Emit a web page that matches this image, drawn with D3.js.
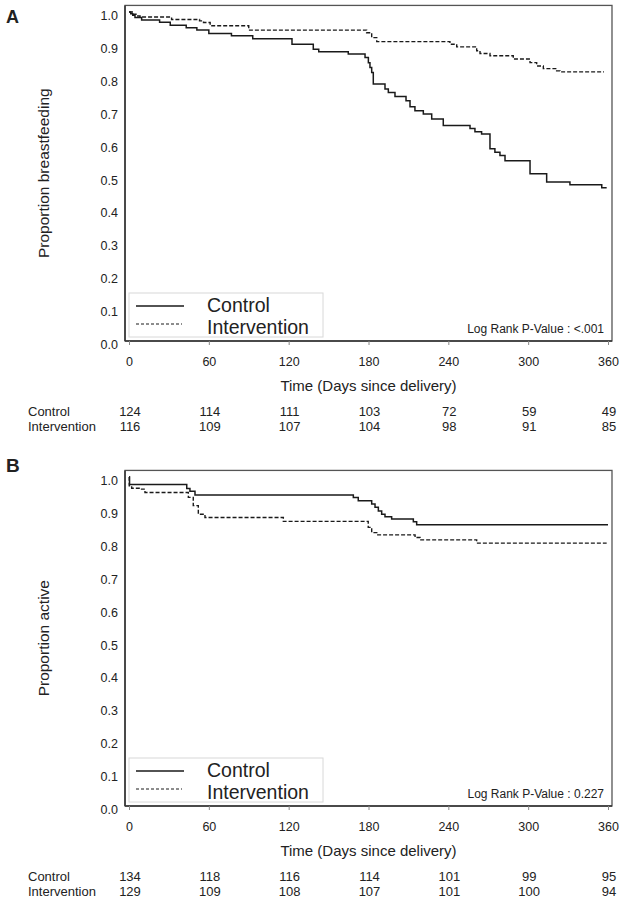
<!DOCTYPE html>
<html>
<head>
<meta charset="utf-8">
<script src="https://cdn.jsdelivr.net/npm/d3@7"></script>
<style>
  html, body { margin: 0; padding: 0; background: #fff; }
  svg { display: block; }
  text { font-family: "Liberation Sans", Arial, sans-serif; fill: #222; }
</style>
</head>
<body>
<svg id="chart" width="625" height="900"></svg>
<script>
// ---------- DATA ----------
const timeTicks = [0, 60, 120, 180, 240, 300, 360];
const propTicks = [0, 0.1, 0.2, 0.3, 0.4, 0.5, 0.6, 0.7, 0.8, 0.9, 1.0];
const seriesNames = ["Control", "Intervention"];

// Panel A: breastfeeding
const aControlDays = [0, 1.3, 2.8, 4.5, 9.5, 23, 31, 43, 51, 60, 77, 93, 122.5, 138.5, 142.6, 164.8, 177.4, 179.9, 181.1, 182.4, 183.6, 192.4, 194.9, 199.9, 208.2, 211.2, 214.9, 221.2, 227.5, 236.2, 256.3, 260, 265, 271.3, 275, 278.8, 282.6, 301.4, 313.9, 331.4, 355.3, 359];
const aControlProp = [1, 0.995, 0.990, 0.983, 0.976, 0.969, 0.960, 0.952, 0.945, 0.935, 0.928, 0.919, 0.902, 0.887, 0.879, 0.872, 0.862, 0.846, 0.831, 0.816, 0.781, 0.766, 0.755, 0.743, 0.730, 0.712, 0.700, 0.690, 0.675, 0.655, 0.646, 0.636, 0.629, 0.584, 0.574, 0.564, 0.548, 0.508, 0.483, 0.475, 0.466, 0.466];
const aInterDays = [0, 3.2, 6, 8.3, 32, 53, 56, 61, 90, 178.6, 182.4, 186.2, 241.2, 246.3, 261.3, 263.8, 271.3, 288.8, 301.4, 306.4, 311.4, 321.4, 323.9, 357];
const aInterProp = [1, 0.993, 0.988, 0.985, 0.977, 0.973, 0.968, 0.958, 0.945, 0.937, 0.922, 0.910, 0.902, 0.894, 0.882, 0.874, 0.867, 0.857, 0.846, 0.836, 0.828, 0.821, 0.818, 0.818];
const aRiskControl = [124, 114, 111, 103, 72, 59, 49];
const aRiskInter = [116, 109, 107, 104, 98, 91, 85];

// Panel B: active
const bControlDays = [0, 0.4, 43.4, 45.8, 49.6, 168.6, 172.3, 182.4, 184.9, 187.4, 189.9, 192.4, 197.4, 213.7, 216.2, 360];
const bControlProp = [1, 0.977, 0.965, 0.957, 0.945, 0.938, 0.928, 0.918, 0.908, 0.897, 0.887, 0.879, 0.872, 0.864, 0.855, 0.855];
const bInterDays = [0, 0.2, 2, 8.3, 12, 44.6, 48.3, 52.1, 57.1, 116, 179.8, 182.4, 186.2, 215, 218.7, 261.3, 359];
const bInterProp = [1, 0.973, 0.966, 0.963, 0.953, 0.938, 0.913, 0.887, 0.877, 0.865, 0.847, 0.831, 0.824, 0.816, 0.809, 0.799, 0.799];
const bRiskControl = [134, 118, 116, 114, 101, 99, 95];
const bRiskInter = [129, 109, 108, 107, 101, 100, 94];

// ---------- DRAW ----------
const svg = d3.select("#chart");
const FONT = "Liberation Sans";
const x = d3.scaleLinear().domain([0, 360]).range([129, 608]);
const y = d3.scaleLinear().domain([0, 1]).range([341, 12]);
const xFrame = [-3, 363], yFrame = [0, 1.02];

function zip(t, p) { return t.map((d, i) => ({ t: d, p: p[i] })); }

function drawPanel(g, opts) {
  // frame
  g.append("rect")
    .attr("x", x(xFrame[0])).attr("y", y(yFrame[1]))
    .attr("width", x(xFrame[1]) - x(xFrame[0]))
    .attr("height", y(yFrame[0]) - y(yFrame[1]))
    .attr("fill", "none").attr("stroke", "#555").attr("stroke-width", 1.3);
  g.append("line").attr("x1", x(xFrame[0])).attr("x2", x(xFrame[0]))
    .attr("y1", y(yFrame[0])).attr("y2", y(yFrame[1]))
    .attr("stroke", "#333").attr("stroke-width", 1.5);
  g.append("line").attr("x1", x(xFrame[0])).attr("x2", x(xFrame[1]))
    .attr("y1", y(0)).attr("y2", y(0))
    .attr("stroke", "#333").attr("stroke-width", 1.5);

  // x axis
  const xa = g.append("g").attr("transform", `translate(0,${y(0)})`)
    .call(d3.axisBottom(x).tickValues(timeTicks).tickSize(4).tickPadding(12.5).tickFormat(d3.format("d")));
  xa.select(".domain").remove();
  xa.selectAll(".tick line").attr("stroke", "#888");
  xa.selectAll("text").attr("font-size", 12.5).attr("font-family", FONT).attr("fill", "#222");

  // y axis
  const ya = g.append("g").attr("transform", `translate(${x(xFrame[0])},0)`)
    .call(d3.axisLeft(y).tickValues(propTicks).tickSize(0).tickPadding(7).tickFormat(d3.format(".1f")));
  ya.select(".domain").remove();
  ya.selectAll("text").attr("font-size", 12.5).attr("font-family", FONT).attr("fill", "#222").attr("dy", "0.6em");

  // y title
  g.append("text")
    .attr("transform", `translate(45,${(y(0) + y(yFrame[1])) / 2}) rotate(-90)`)
    .attr("text-anchor", "middle").attr("dominant-baseline", "middle")
    .attr("font-size", 15.5).text(opts.yTitle);

  // x title
  g.append("text").attr("x", x(180)).attr("y", 391)
    .attr("text-anchor", "middle").attr("font-size", 15)
    .text("Time (Days since delivery)");

  // curves
  const line = d3.line().x(d => x(d.t)).y(d => y(d.p)).curve(d3.curveStepAfter);
  g.append("path").datum(zip(opts.iT, opts.iP)).attr("d", line)
    .attr("fill", "none").attr("stroke", "#1a1a1a").attr("stroke-width", 1.4)
    .attr("stroke-dasharray", "4,2");
  g.append("path").datum(zip(opts.cT, opts.cP)).attr("d", line)
    .attr("fill", "none").attr("stroke", "#1a1a1a").attr("stroke-width", 1.5);

  // legend
  const lg = g.append("g");
  lg.append("rect").attr("x", 129).attr("y", 293).attr("width", 194).attr("height", 44)
    .attr("fill", "#fff").attr("stroke", "#d8d8d8").attr("stroke-width", 1);
  lg.append("line").attr("x1", 136).attr("x2", 184).attr("y1", 306).attr("y2", 306)
    .attr("stroke", "#1a1a1a").attr("stroke-width", 1.4);
  lg.append("line").attr("x1", 136).attr("x2", 182).attr("y1", 324).attr("y2", 324)
    .attr("stroke", "#1a1a1a").attr("stroke-width", 1).attr("stroke-dasharray", "3,2");
  lg.append("text").attr("x", 207).attr("y", 312).attr("font-size", 19.5).text(seriesNames[0]);
  lg.append("text").attr("x", 207).attr("y", 334).attr("font-size", 19.5).text(seriesNames[1]);

  // p-value
  g.append("text").attr("x", 604).attr("y", 333).attr("text-anchor", "end")
    .attr("font-size", 12).text(opts.pText);

  // risk table
  const rowY = [416, 431];
  [opts.rC, opts.rI].forEach((r, i) => {
    g.append("text").attr("x", 28).attr("y", rowY[i]).attr("font-size", 13).text(seriesNames[i]);
    g.selectAll(null).data(r).enter().append("text")
      .attr("x", (d, j) => x(timeTicks[j]) + 1).attr("y", rowY[i])
      .attr("text-anchor", "middle").attr("font-size", 13).text(d => d);
  });
}

const gA = svg.append("g");
drawPanel(gA, {
  yTitle: "Proportion breastfeeding",
  cT: aControlDays, cP: aControlProp, iT: aInterDays, iP: aInterProp,
  pText: "Log Rank P-Value : <.001", rC: aRiskControl, rI: aRiskInter
});
const gB = svg.append("g").attr("transform", "translate(0,465)");
drawPanel(gB, {
  yTitle: "Proportion active",
  cT: bControlDays, cP: bControlProp, iT: bInterDays, iP: bInterProp,
  pText: "Log Rank P-Value : 0.227", rC: bRiskControl, rI: bRiskInter
});

// panel letters
svg.append("text").attr("x", 6).attr("y", 23).attr("font-family", "Liberation Serif, serif")
  .attr("font-weight", "bold").attr("font-size", 18).text("A");
svg.append("text").attr("x", 6).attr("y", 472).attr("font-family", "Liberation Serif, serif")
  .attr("font-weight", "bold").attr("font-size", 19).text("B");
</script>
</body>
</html>
